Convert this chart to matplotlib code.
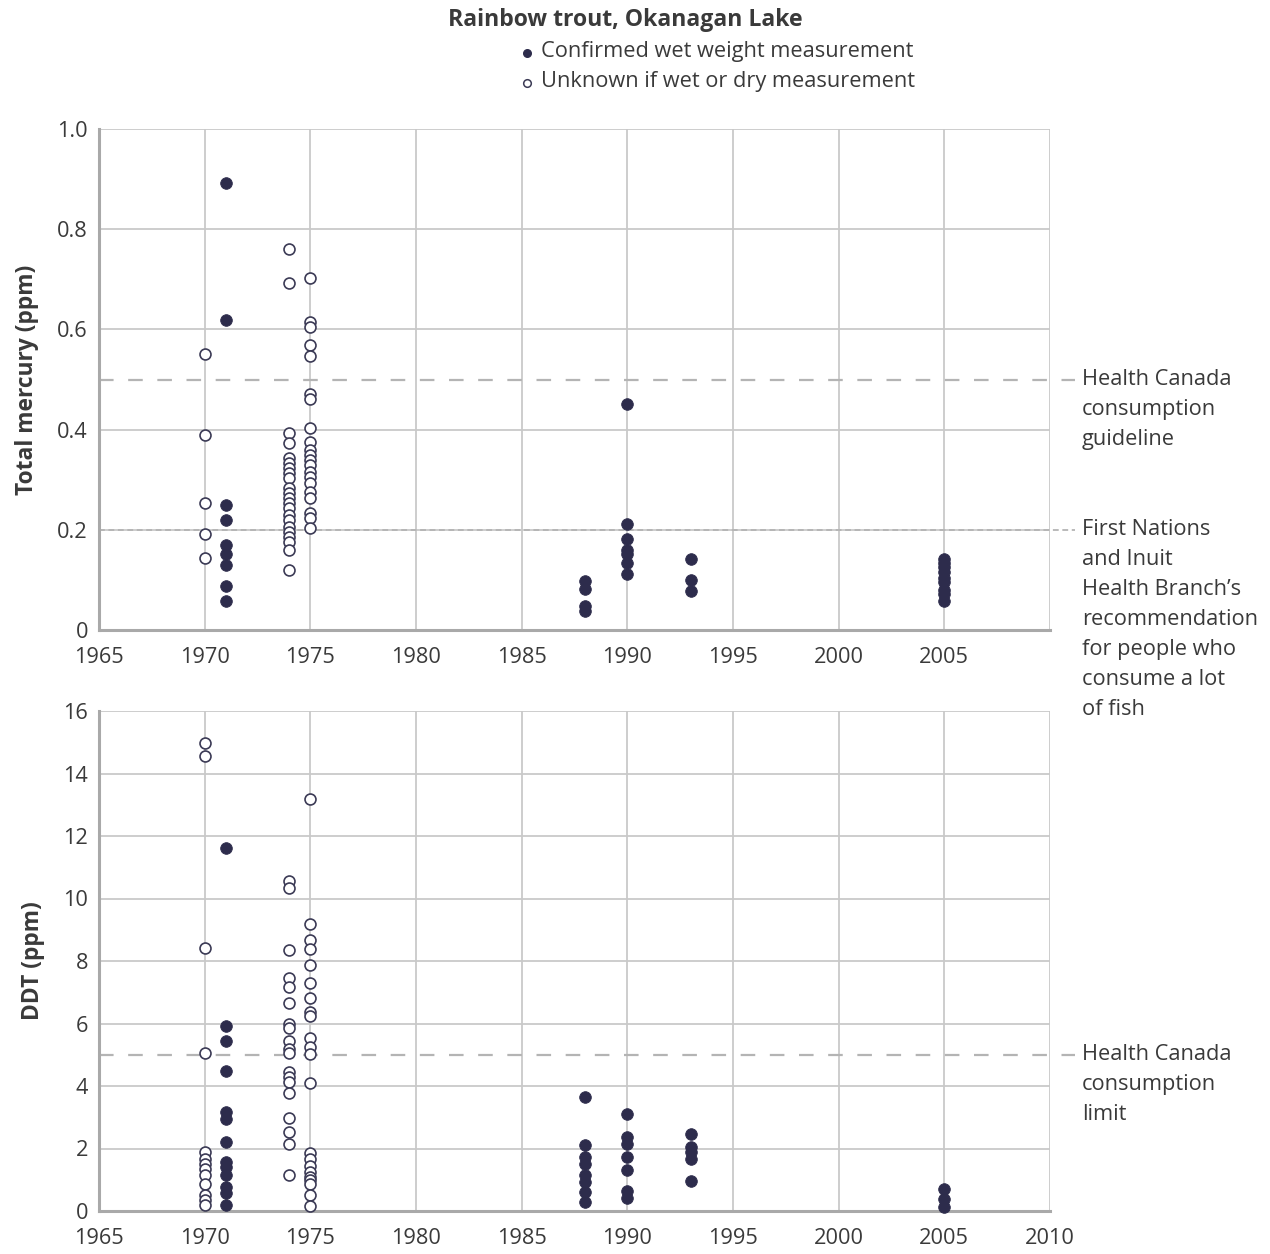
import matplotlib
matplotlib.use("Agg")
import matplotlib.pyplot as plt
from matplotlib import transforms

plt.rcParams["font.family"] = ["Open Sans", "DejaVu Sans"]
plt.rcParams["lines.scale_dashes"] = False

# ---- Total mercury (ppm) ----
hg_1970_unknown = [0.551, 0.389, 0.253, 0.192, 0.144]
hg_1971_wet = [0.892, 0.619, 0.250, 0.220, 0.170, 0.151, 0.130, 0.088, 0.058]
hg_1974_unknown = [0.760, 0.692, 0.393, 0.373, 0.343, 0.333, 0.323, 0.313, 0.303,
                   0.283, 0.273, 0.263, 0.253, 0.243, 0.230, 0.220, 0.206, 0.196,
                   0.186, 0.176, 0.160, 0.120]
hg_1975_unknown = [0.702, 0.615, 0.605, 0.569, 0.546, 0.472, 0.462, 0.403, 0.376,
                   0.359, 0.349, 0.339, 0.329, 0.316, 0.306, 0.293, 0.276, 0.263,
                   0.233, 0.223, 0.203]
hg_1988_wet = [0.098, 0.082, 0.047, 0.038]
hg_1990_wet = [0.451, 0.212, 0.181, 0.160, 0.152, 0.133, 0.112]
hg_1993_wet = [0.141, 0.100, 0.078]
hg_2005_wet = [0.141, 0.133, 0.125, 0.115, 0.103, 0.096, 0.080, 0.072, 0.058]

# ---- DDT (ppm) ----
ddt_1970_unknown = [14.97, 14.56, 8.43, 5.05, 1.90, 1.65, 1.50, 1.35, 1.15, 0.85,
                    0.50, 0.35, 0.20]
ddt_1971_wet = [11.63, 5.93, 5.44, 4.49, 3.18, 2.93, 2.20, 1.58, 1.42, 1.15, 0.78,
                0.57, 0.19]
ddt_1974_unknown = [10.56, 10.33, 8.35, 7.47, 7.18, 6.65, 5.97, 5.85, 5.44, 5.20,
                    5.05, 4.46, 4.30, 4.14, 3.79, 2.97, 2.54, 2.14, 1.15]
ddt_1975_unknown = [13.20, 9.18, 8.67, 8.40, 7.87, 7.31, 6.81, 6.38, 6.25, 5.53,
                    5.26, 5.01, 4.11, 1.85, 1.65, 1.45, 1.25, 1.10, 1.00, 0.85,
                    0.50, 0.15]
ddt_1988_wet = [3.64, 2.11, 1.74, 1.50, 1.15, 0.92, 0.60, 0.30]
ddt_1990_wet = [3.09, 2.36, 2.14, 1.72, 1.30, 0.65, 0.41]
ddt_1993_wet = [2.45, 2.06, 1.90, 1.66, 0.96]
ddt_2005_wet = [0.69, 0.37, 0.14]

x_ticks = [1965, 1970, 1975, 1980, 1985, 1990, 1995, 2000, 2005, 2010]
hg_ticks = [0, 0.2, 0.4, 0.6, 0.8, 1.0]
hg_tick_labels = ["0", "0.2", "0.4", "0.6", "0.8", "1.0"]
ddt_ticks = [0, 2, 4, 6, 8, 10, 12, 14, 16]

hg_guideline = 0.5
hg_fnihb = 0.2
ddt_limit = 5.0

hg_guideline_text = ["Health Canada", "consumption", "guideline"]
hg_fnihb_text = ["First Nations", "and Inuit", "Health Branch\u2019s",
                 "recommendation", "for people who", "consume a lot", "of fish"]
ddt_limit_text = ["Health Canada", "consumption", "limit"]

NAVY = "#2d2c4c"
EDGE = "#3b3a55"
GRID = "#c9c9c9"
SPINE = "#a9a9a9"
TEXT = "#3a3a3a"
GUIDE = "#b4b4b4"
FS = 15.7

W, H = 1270, 1254
fig = plt.figure(figsize=(W / 100, H / 100), dpi=100)


def px_axes(left, top, right, bottom):
    return fig.add_axes([left / W, 1 - bottom / H, (right - left) / W, (bottom - top) / H])


ax1 = px_axes(99, 129, 1050, 630)
ax2 = px_axes(99, 711, 1050, 1211)


def plot_group(ax, year, values, filled):
    xs = [year] * len(values)
    if filled:
        ax.scatter(xs, values, s=70, color=NAVY, edgecolor=NAVY, linewidths=0.6,
                   zorder=4, clip_on=False)
    else:
        ax.scatter(xs, values, s=62, facecolor="white", edgecolor=EDGE,
                   linewidths=1.2, zorder=3, clip_on=False)


def style_axes(ax, ymax, yticks, ylabels, xlabels):
    ax.set_xlim(1965, 2010)
    ax.set_ylim(0, ymax)
    ax.set_xticks(x_ticks)
    ax.set_xticklabels(xlabels)
    ax.set_yticks(yticks)
    ax.set_yticklabels(ylabels)
    ax.grid(True, color=GRID, linewidth=1.3)
    ax.set_axisbelow(True)
    for side in ("top", "right"):
        ax.spines[side].set_visible(False)
    for side in ("left", "bottom"):
        ax.spines[side].set_color(SPINE)
        ax.spines[side].set_linewidth(2.2)
    ax.tick_params(axis="both", length=0, labelsize=FS, labelcolor=TEXT)
    ax.tick_params(axis="x", pad=12)
    ax.tick_params(axis="y", pad=8)


def guide_line(ax, y, dashes, lw, lines):
    ax.plot([1965, 2011.2], [y, y], color=GUIDE, linewidth=lw, dashes=dashes,
            clip_on=False, zorder=2)
    for i, line in enumerate(lines):
        tr = transforms.offset_copy(ax.transData, fig=fig, x=0, y=-30 * i, units="dots")
        ax.text(2011.5, y, line, transform=tr, fontsize=FS, color=TEXT,
                ha="left", va="center", clip_on=False)


# Mercury panel
plot_group(ax1, 1970, hg_1970_unknown, False)
plot_group(ax1, 1971, hg_1971_wet, True)
plot_group(ax1, 1974, hg_1974_unknown, False)
plot_group(ax1, 1975, hg_1975_unknown, False)
plot_group(ax1, 1988, hg_1988_wet, True)
plot_group(ax1, 1990, hg_1990_wet, True)
plot_group(ax1, 1993, hg_1993_wet, True)
plot_group(ax1, 2005, hg_2005_wet, True)
style_axes(ax1, 1.0, hg_ticks, hg_tick_labels,
           [str(v) for v in x_ticks[:-1]] + [""])
guide_line(ax1, hg_guideline, (10.5, 10.5), 1.6, hg_guideline_text)
guide_line(ax1, hg_fnihb, (4.2, 2.6), 1.3, hg_fnihb_text)
ax1.set_ylabel("Total mercury (ppm)", fontsize=16.4, fontweight="bold", color=TEXT,
               labelpad=13)

# DDT panel
plot_group(ax2, 1970, ddt_1970_unknown, False)
plot_group(ax2, 1971, ddt_1971_wet, True)
plot_group(ax2, 1974, ddt_1974_unknown, False)
plot_group(ax2, 1975, ddt_1975_unknown, False)
plot_group(ax2, 1988, ddt_1988_wet, True)
plot_group(ax2, 1990, ddt_1990_wet, True)
plot_group(ax2, 1993, ddt_1993_wet, True)
plot_group(ax2, 2005, ddt_2005_wet, True)
style_axes(ax2, 16, ddt_ticks, [str(v) for v in ddt_ticks],
           [str(v) for v in x_ticks])
guide_line(ax2, ddt_limit, (10.5, 10.5), 1.6, ddt_limit_text)
ax2.set_ylabel("DDT (ppm)", fontsize=16.4, fontweight="bold", color=TEXT, labelpad=13)

# Title and marker key
fig.text(625 / W, 1 - 20 / H, "Rainbow trout, Okanagan Lake", fontsize=16.6,
         fontweight="bold", color=TEXT, ha="center", va="center")
fig.text(541 / W, 1 - 52 / H, "Confirmed wet weight measurement", fontsize=FS,
         color=TEXT, ha="left", va="center")
fig.text(541 / W, 1 - 82 / H, "Unknown if wet or dry measurement", fontsize=FS,
         color=TEXT, ha="left", va="center")
key = fig.add_axes([0, 0, 1, 1], facecolor="none")
key.set_xlim(0, W)
key.set_ylim(H, 0)
key.axis("off")
key.scatter([527], [53], s=30, color=NAVY, edgecolor=NAVY)
key.scatter([527], [83], s=30, facecolor="white", edgecolor=EDGE, linewidths=1.1)

fig.savefig("out.png", dpi=100)
